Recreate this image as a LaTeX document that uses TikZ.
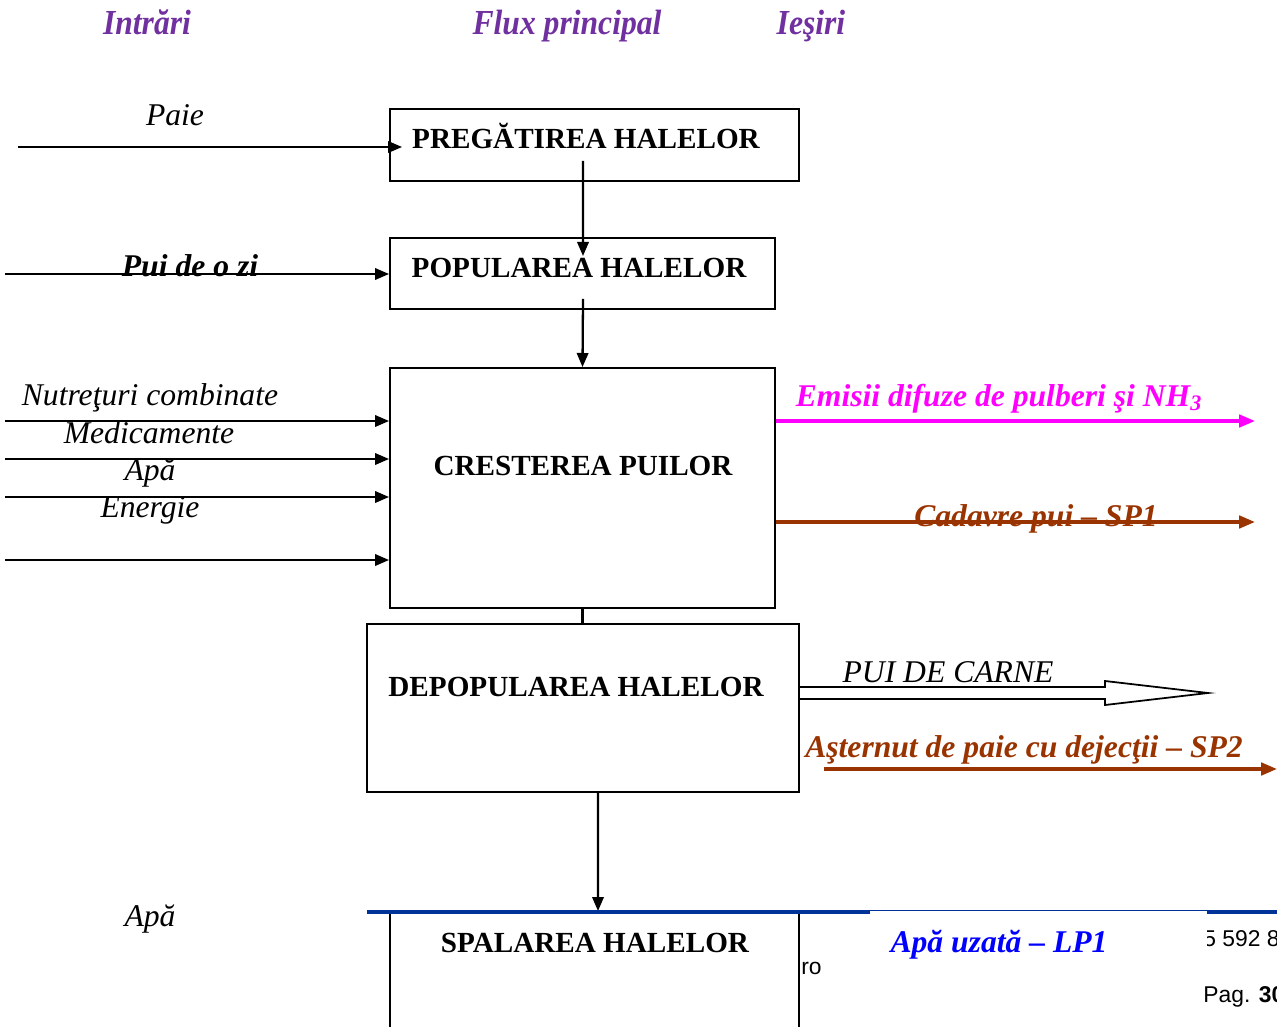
\documentclass[tikz,border=0pt]{standalone}
\usepackage{fontspec}
\setmainfont{Liberation Serif}
\newfontfamily\footfont{Liberation Sans}
\usepackage{xcolor}
\usetikzlibrary{arrows.meta, positioning, calc}

\definecolor{hdrpurple}{RGB}{112,48,160}
\definecolor{emismag}{RGB}{255,0,255}
\definecolor{wastebrown}{RGB}{153,51,0}
\definecolor{footblue}{RGB}{0,51,153}

\begin{document}
\begin{tikzpicture}[x=0.02cm, y=-0.02cm,
    box/.style={draw, line width=1.1pt, inner sep=0pt},
    boxtext/.style={anchor=base, inner sep=0pt, font=\fontsize{16.6}{18}\selectfont\bfseries},
    head/.style={anchor=base, inner sep=0pt, xscale=0.9, text=hdrpurple, font=\fontsize{20}{22}\selectfont\bfseries\itshape},
    inlabel/.style={anchor=base, inner sep=0pt, font=\fontsize{18}{20}\selectfont\itshape},
    outlabel/.style={anchor=base, inner sep=0pt, font=\fontsize{18}{20}\selectfont\bfseries\itshape},
    flow/.style={line width=1.3pt, -{Triangle[length=8pt, width=6.5pt]}},
    outflow/.style={line width=2pt, -{Triangle[length=9pt, width=7pt]}}]
    \useasboundingbox (0,0) rectangle (1277,1027);
    \clip (0,0) rectangle (1277,1027);

    % column headers
    \node[head] (hin) at (147,35) {Intrări};
    \node[head] (hflux) at (567,35) {Flux principal};
    \node[head] (hout) at (811,35) {Ieşiri};

    % main flow boxes
    \node[box, minimum width=8.18cm, minimum height=1.44cm] (prep) at (594.5,145) {};
    \node[box, minimum width=7.70cm, minimum height=1.42cm] (popul) at (582.5,273.5) {};
    \node[box, minimum width=7.70cm, minimum height=4.80cm] (grow) at (582.5,488) {};
    \node[box, minimum width=8.64cm, minimum height=3.36cm] (depop) at (583,708) {};
    \node[box, minimum width=8.18cm, minimum height=2.60cm] (wash) at (594.5,977) {};

    \node[boxtext] (tprep) at (586,149) {PREGĂTIREA HALELOR};
    \node[boxtext] (tpopul) at (579,277) {POPULAREA HALELOR};
    \node[boxtext] (tgrow) at (583,475) {CRESTEREA PUILOR};
    \node[boxtext] (tdepop) at (576,696) {DEPOPULAREA HALELOR};
    \node[boxtext] (twash) at (595,952) {SPALAREA HALELOR};

    % links between boxes
    \draw[flow] ($(prep.south)+(-11.5,-21)$) -- ($(popul.north)+(0.5,19)$);
    \draw[flow] ($(popul.south)+(0.5,-11)$) -- (grow.north);
    \draw[line width=1.3pt] (grow.south) -- (grow.south |- depop.north);
    \draw[flow] ($(depop.south)+(15,0)$) -- ($(wash.north)+(3.5,0)$);

    % inputs
    \node[inlabel] (lpaie) at (175,126) {Paie};
    \node[outlabel] (lpui) at (190,276) {Pui de o zi};
    \node[inlabel] (lfeed) at (150,405) {Nutreţuri combinate};
    \node[inlabel] (lmed) at (149,443) {Medicamente};
    \node[inlabel] (lwater) at (150,480) {Apă};
    \node[inlabel] (lenergy) at (150,517) {Energie};
    \node[inlabel] (lwater2) at (150,926) {Apă};

    \coordinate (inpaie) at (18,147);
    \coordinate (inpui) at (5,274);
    \draw[flow] (inpaie) -- ($(inpaie -| prep.west)+(13,0)$);
    \draw[flow] (inpui) -- (inpui -| popul.west);
    \foreach \yy [count=\i] in {421,459,497,560} {
        \coordinate (in\i) at (5,\yy);
        \draw[flow] (in\i) -- (in\i -| grow.west);
    }

    % outputs
    \node[outlabel, text=emismag] (lemis) at (999,406) {Emisii difuze de pulberi şi NH\textsubscript{3}};
    \node[outlabel, text=wastebrown] (lcorpse) at (1036,526) {Cadavre pui -- SP1};
    \node[inlabel] (lmeat) at (948,682) {PUI DE CARNE};
    \node[outlabel, text=wastebrown] (llitter) at (1024,757) {Aşternut de paie cu dejecţii -- SP2};

    \coordinate (outemis) at (1255,421);
    \coordinate (outcorpse) at (1255,522);
    \coordinate (outlitter) at (1277,769);
    \draw[outflow, emismag] (outemis -| grow.east) -- (outemis);
    \draw[outflow, wastebrown] (outcorpse -| grow.east) -- (outcorpse);
    \draw[outflow, wastebrown] ($(outlitter -| depop.east)+(24,0)$) -- (outlitter);
    \draw[line width=1pt] (depop.east |- 0,687) -- (1105,687) -- (1105,681)
        -- (1208,693) -- (1105,705) -- (1105,699) -- (depop.east |- 0,699);

    % page footer
    \draw[footblue, line width=2.3pt] (367,912) -- (1277,912);
    \node[anchor=base west, inner sep=0pt, font=\footfont\fontsize{13}{15}\selectfont] (fphone) at (1203,946) {5 592 8};
    \fill[white] (870,910.5) rectangle (1207,1027);
    \node[anchor=base west, inner sep=0pt, font=\footfont\fontsize{13}{15}\selectfont] (fro) at (801,974) {ro};
    \node[anchor=base west, inner sep=0pt, font=\footfont\fontsize{13}{15}\selectfont] (fpage) at (1203,1002) {Pag. \textbf{30}};
    \node[outlabel, text=blue] (lwaste) at (999,952) {Apă uzată -- LP1};
\end{tikzpicture}
\end{document}
